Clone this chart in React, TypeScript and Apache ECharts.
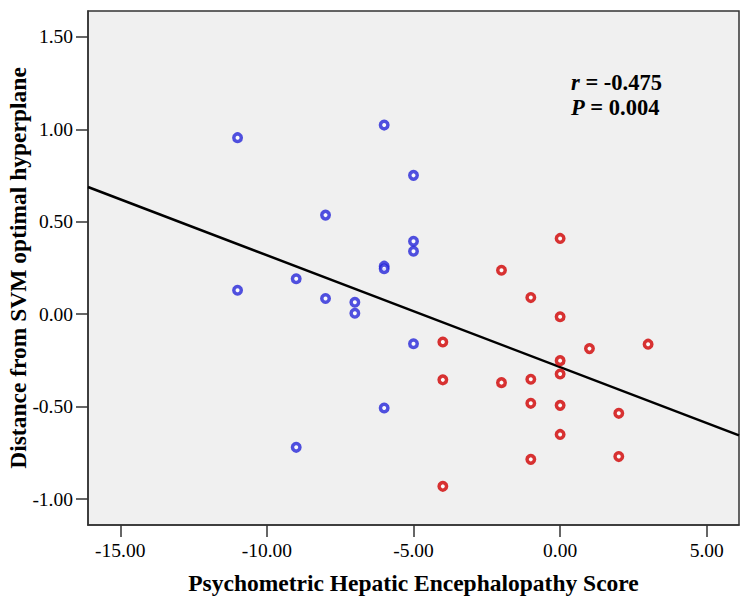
import React, { useEffect, useRef } from "react";
import * as echarts from "echarts";

const blueX = [-11, -6, -5, -8, -5, -5, -6, -6, -9, -11, -8, -7, -7, -5, -6, -9];
const blueY = [0.955, 1.023, 0.751, 0.536, 0.395, 0.341, 0.26, 0.246, 0.192, 0.13, 0.085, 0.065, 0.005, -0.16, -0.507, -0.72];

const redX = [0, -2, -1, 0, -4, 1, 3, 0, 0, -4, -2, -1, -1, 0, 2, 0, -1, 2, -4];
const redY = [0.41, 0.238, 0.09, -0.014, -0.15, -0.186, -0.162, -0.251, -0.323, -0.355, -0.37, -0.352, -0.482, -0.493, -0.536, -0.65, -0.785, -0.77, -0.931];

const xTicks = [-15, -10, -5, 0, 5];
const yTicks = [-1, -0.5, 0, 0.5, 1, 1.5];

const X_MIN = -16.1;
const X_MAX = 6.1;
const Y_MIN = -1.14;
const Y_MAX = 1.64;

const fitSlope = -0.0605;
const fitIntercept = -0.286;

const xTitle = "Psychometric Hepatic Encephalopathy Score";
const yTitle = "Distance from SVM optimal hyperplane";
const statLines = ["{i|r} = -0.475", "{i|P} = 0.004"];

const FONT = "'Liberation Serif', 'Times New Roman', serif";

export default function App() {
  const ref = useRef<HTMLDivElement>(null);
  useEffect(() => {
    if (!ref.current) return;
    const chart = echarts.init(ref.current, null, { renderer: "svg" });
    const fitLine = [X_MIN, X_MAX].map((x) => [x, fitIntercept + fitSlope * x]);
    const axisCommon = {
      axisLine: { show: true, onZero: false, lineStyle: { color: "#333", width: 1.5 } },
      axisTick: { show: true, length: 12, lineStyle: { color: "#333", width: 1.5 } },
      splitLine: { show: false },
      nameLocation: "middle" as const,
    };
    chart.setOption({
      animation: false,
      backgroundColor: "#fff",
      grid: {
        left: 88,
        right: 11,
        top: 11,
        bottom: 75,
        show: true,
        containLabel: false,
        outerBoundsMode: "none",
        backgroundColor: "#f0f0f0",
        borderColor: "#333",
        borderWidth: 1.5,
      },
      xAxis: {
        ...axisCommon,
        type: "value",
        min: X_MIN,
        max: X_MAX,
        name: xTitle,
        nameGap: 46,
        nameTextStyle: { fontFamily: FONT, fontWeight: "bold", fontSize: 23.5, color: "#000" },
        axisTick: { ...axisCommon.axisTick, customValues: xTicks },
        axisLabel: {
          customValues: xTicks,
          formatter: (v: number) => v.toFixed(2),
          fontFamily: FONT,
          fontSize: 19.5,
          color: "#000",
          margin: 15,
        },
      },
      yAxis: {
        ...axisCommon,
        type: "value",
        min: Y_MIN,
        max: Y_MAX,
        axisTick: { ...axisCommon.axisTick, customValues: yTicks },
        axisLabel: {
          customValues: yTicks,
          formatter: (v: number) => v.toFixed(2),
          fontFamily: FONT,
          fontSize: 19.5,
          color: "#000",
          margin: 15,
        },
      },
      graphic: [
        {
          type: "text",
          x: 18,
          y: 268,
          rotation: Math.PI / 2,
          style: {
            text: yTitle,
            fontFamily: FONT,
            fontWeight: "bold",
            fontSize: 23.5,
            fill: "#000",
            align: "center",
            verticalAlign: "middle",
          },
        },
        {
          type: "text",
          left: 571,
          top: 70,
          style: {
            text: statLines.join("\n"),
            fontFamily: FONT,
            fontWeight: "bold",
            fontSize: 22.5,
            lineHeight: 25,
            fill: "#000",
            rich: {
              i: { fontFamily: FONT, fontWeight: "bold", fontStyle: "italic", fontSize: 22.5, lineHeight: 25 },
            },
          },
        },
      ],
      series: [
        {
          type: "line",
          data: fitLine,
          symbol: "none",
          lineStyle: { color: "#000", width: 2.5 },
          silent: true,
          z: 1,
        },
        {
          type: "scatter",
          data: blueX.map((x, i) => [x, blueY[i]]),
          symbol: "circle",
          symbolSize: 7.5,
          itemStyle: { color: "#fff", borderColor: "#2626d8", borderWidth: 3.5 },
          z: 3,
        },
        {
          type: "scatter",
          data: redX.map((x, i) => [x, redY[i]]),
          symbol: "circle",
          symbolSize: 7.5,
          itemStyle: { color: "#fff", borderColor: "#d00000", borderWidth: 3.5 },
          z: 3,
        },
      ],
    });
    return () => chart.dispose();
  }, []);
  return (
    <div
      ref={ref}
      style={{ position: "fixed", left: 0, top: 0, width: 750, height: 600 }}
    />
  );
}
